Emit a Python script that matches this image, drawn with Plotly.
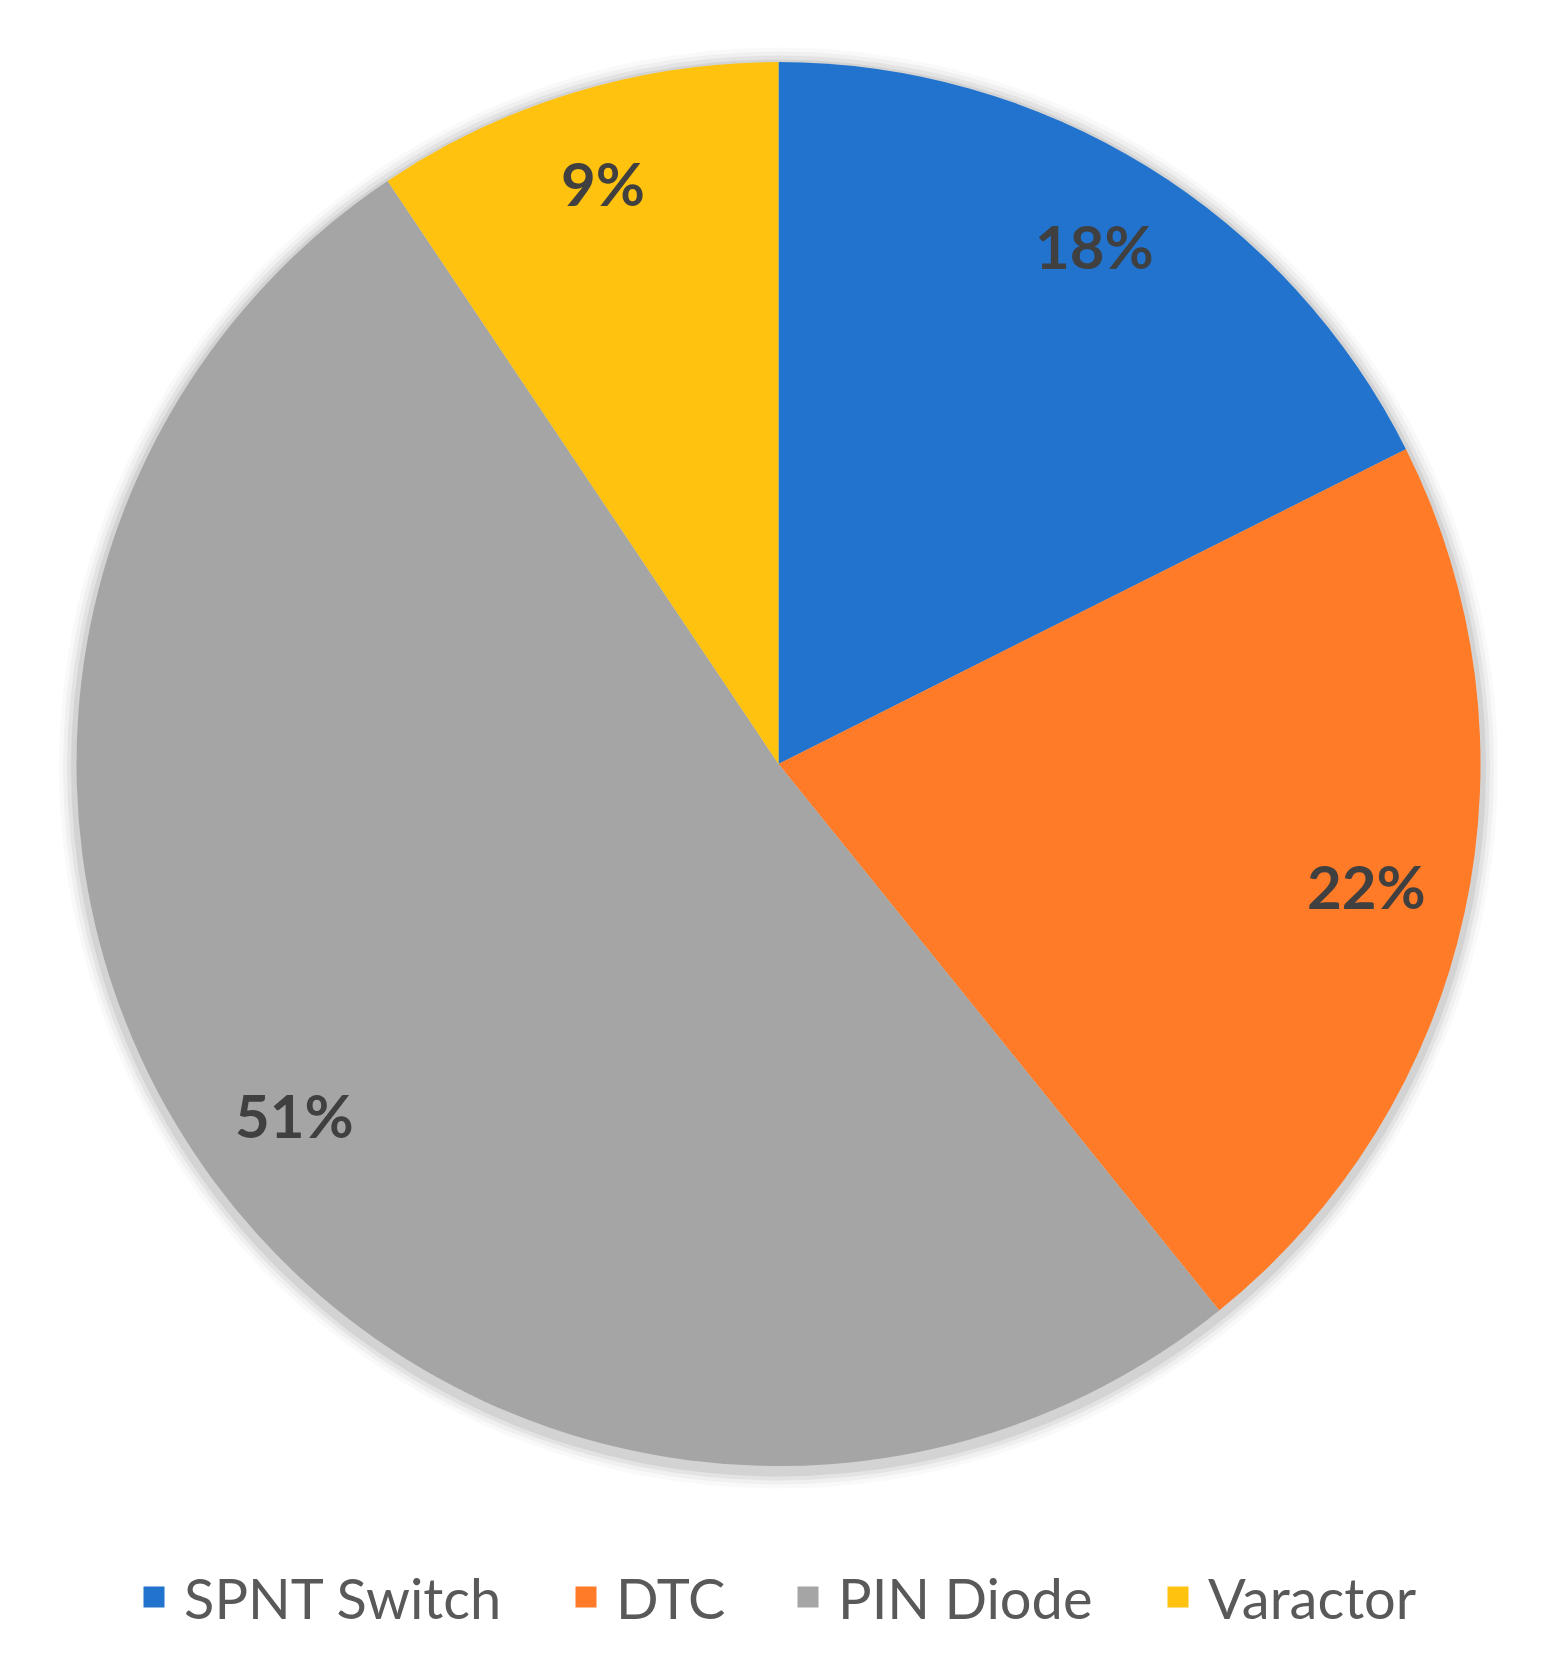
import numpy as np
import plotly.graph_objects as go

# Pie data (shares; labels show them rounded)
labels = ["SPNT Switch", "DTC", "PIN Diode", "Varactor"]
values = [17.6, 21.6, 51.4, 9.4]
colors = ["#2173CE", "#FF7B28", "#A5A5A5", "#FFC20E"]

W, H = 1543, 1680
OFF = 8  # page body margin
# pie box in page pixels (left, right, top, bottom)
px_l, px_r, px_t, px_b = 75 - OFF, 1482 - OFF, 62 - OFF, 1466 - OFF
dom_x = [px_l / W, px_r / W]
dom_y = [1 - px_b / H, 1 - px_t / H]

# left edge of each legend entry (page px)
legend_x = [130, 562, 784, 1154]
legend_y = 1597

fig = go.Figure()

fig.add_trace(go.Pie(
    labels=labels,
    values=values,
    sort=False,
    direction="clockwise",
    rotation=0,
    marker=dict(colors=colors, line=dict(width=0)),
    textinfo="none",
    domain=dict(x=dom_x, y=dom_y),
    hoverinfo="label+percent",
    showlegend=False,
))

# legend entries, one legend each so the spacing follows the text
legend_layout = {}
for i, (lab, col, lx) in enumerate(zip(labels, colors, legend_x)):
    key = "legend" if i == 0 else f"legend{i + 1}"
    fig.add_trace(go.Scatter(
        x=[None], y=[None], mode="markers", name=lab,
        marker=dict(symbol="square", size=16, color=col,
                    line=dict(color=col, width=10)),
        legend=key, hoverinfo="skip",
    ))
    legend_layout[key] = dict(
        x=(lx - OFF - 6) / W, xanchor="left",
        y=1 - (legend_y - OFF) / H, yanchor="middle",
        font=dict(family="Lato", size=56, color="#595959"),
        itemwidth=50, itemsizing="trace",
        bgcolor="rgba(0,0,0,0)",
    )

# soft shadow behind the pie
cx, cy = (dom_x[0] + dom_x[1]) / 2, (dom_y[0] + dom_y[1]) / 2
r_px = (px_r - px_l) / 2
rx, ry = r_px / W, r_px / H
for i, op in zip([16, 12, 8, 4], [0.025, 0.035, 0.05, 0.07]):
    fig.add_shape(
        type="circle", xref="paper", yref="paper", layer="below",
        x0=cx - rx - i / W, x1=cx + rx + i / W,
        y0=cy - ry - (i + 5) / H, y1=cy + ry + (i - 3) / H,
        fillcolor="black", opacity=op, line=dict(width=0),
    )

# percentage labels near the outer part of each slice
vals = np.array(values, dtype=float)
mids = (np.cumsum(vals) - vals / 2) / vals.sum() * 2 * np.pi
for v, a in zip(values, mids):
    fig.add_annotation(
        xref="paper", yref="paper",
        x=cx + 0.855 * rx * np.sin(a),
        y=cy + 0.855 * ry * np.cos(a),
        xanchor="center", yanchor="middle", yshift=6,
        text=f"{v:.0f}%", showarrow=False,
        font=dict(family="Lato", size=60, color="#404040", weight="bold"),
    )

fig.update_layout(
    width=W,
    height=H,
    margin=dict(l=0, r=0, t=0, b=0),
    paper_bgcolor="white",
    plot_bgcolor="white",
    xaxis=dict(visible=False),
    yaxis=dict(visible=False),
    showlegend=True,
    **legend_layout,
)

fig.write_html("out.html")
